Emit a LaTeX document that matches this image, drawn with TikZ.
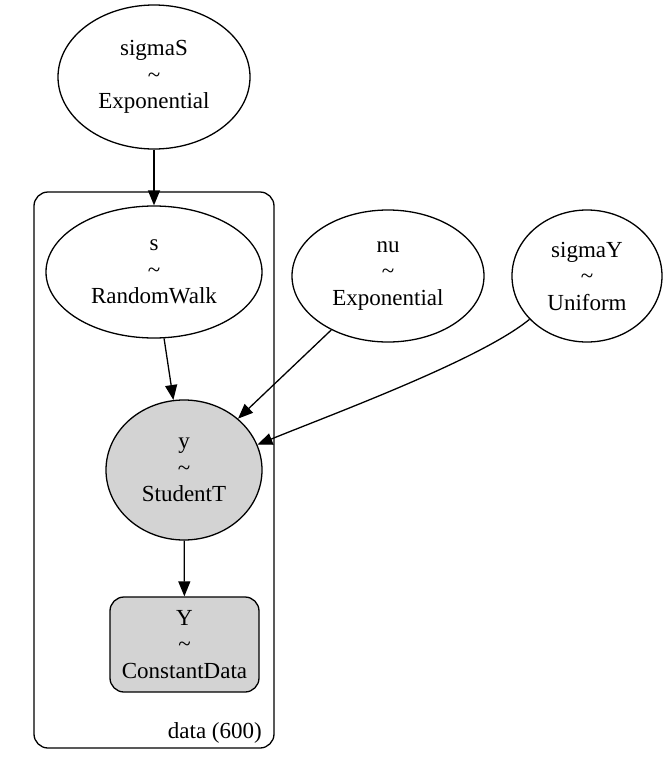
\documentclass[tikz,border=0pt]{standalone}
\usepackage{fontspec}
\setmainfont{Liberation Serif}
\usetikzlibrary{shapes.geometric,arrows.meta}
\definecolor{nodegray}{RGB}{211,211,211}
\tikzset{
  every node/.style={font=\fontsize{23}{26.5}\selectfont},
  rv/.style={draw, ellipse, line width=1.3pt, inner sep=0pt, align=center},
  obs/.style={rv, fill=nodegray},
  dataBox/.style={draw, rectangle, rounded corners=14pt, line width=1.3pt, fill=nodegray, inner sep=0pt, align=center, minimum width=149pt, minimum height=95pt},
  edge/.style={line width=1.3pt, -{Triangle[length=15pt,width=12pt]}},
  plate/.style={draw, rounded corners=14pt, line width=1.3pt}
}
\begin{document}
\begin{tikzpicture}[x=1pt,y=-1pt]
\useasboundingbox (0,0) rectangle (671,758);
\draw[plate] (34,192) rectangle (274,748);
\node[rv, minimum width=192pt, minimum height=144pt] (sigmaS) at (154,77) {sigmaS\\\textasciitilde\\Exponential};
\node[rv, minimum width=216pt, minimum height=132pt] (s) at (154,272) {s\\\textasciitilde\\RandomWalk};
\node[rv, minimum width=192pt, minimum height=132pt] (nu) at (388,276) {nu\\\textasciitilde\\Exponential};
\node[rv, minimum width=150pt, minimum height=132pt] (sigmaY) at (587,276) {sigmaY\\\textasciitilde\\Uniform};
\node[obs, minimum width=156pt, minimum height=140pt] (y) at (184,470) {y\\\textasciitilde\\StudentT};
\node[dataBox] (Y) at (184.5,644.5) {Y\\\textasciitilde\\ConstantData};
\node[anchor=base east, inner sep=0pt] (plabel) at (262,738) {data (600)};
\draw[edge] (sigmaS) -- (s);
\draw[edge] (s) -- (y);
\draw[edge] (nu) -- (y);
\draw[edge] (sigmaY.217) .. controls (480,360) and (330,415) .. (y.19);
\draw[edge] (y) -- (Y);
\end{tikzpicture}
\end{document}
